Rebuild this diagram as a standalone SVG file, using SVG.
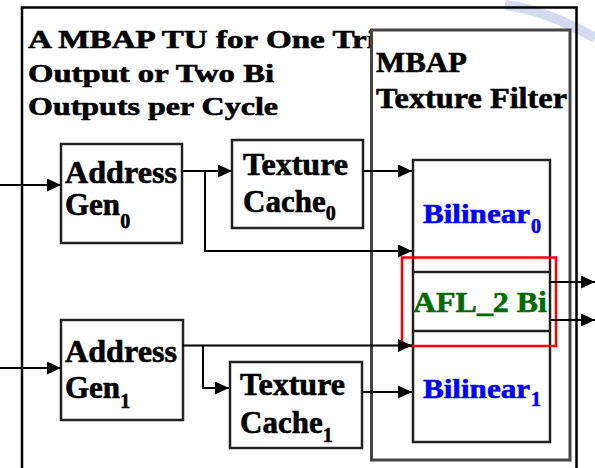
<svg xmlns="http://www.w3.org/2000/svg" width="595" height="468" viewBox="0 0 595 468">
  <defs>
    <marker id="arr" markerUnits="userSpaceOnUse" markerWidth="14" markerHeight="13" refX="14" refY="6.5" orient="auto">
      <path d="M0,0 L14,6.5 L0,13 Z" fill="#000"/>
    </marker>
    <style>
      text { font-family: 'Liberation Serif', 'Times New Roman', Times, serif; font-weight: 700; }
      .t { fill: #000; stroke: #000; stroke-width: 0.6; }
      .box { fill: #fff; stroke: #222; stroke-width: 2.5; }
      .nt { font-size: 31px; }
      .sub { font-size: 20px; }
      .blue { fill: #0000ff; stroke: #0000ff; }
      .green { fill: #006a00; stroke: #006a00; }
      .conn path { fill: none; stroke: #000; stroke-width: 2; }
    </style>
  </defs>
  <rect x="0" y="0" width="595" height="468" fill="#fff"/>

  <g id="watermark" opacity="0.5">
    <path d="M505,5 C530,8 560,18 595,38" fill="none" stroke="#a8b6e2" stroke-width="10"/>
  </g>

  <g id="outer-tu">
    <path d="M22,470 L22,7.5 L576.5,7.5 L576.5,470" fill="none" stroke="#000" stroke-width="2.5"/>
    <text class="t" font-size="25" x="28" y="48" textLength="348" lengthAdjust="spacingAndGlyphs">A MBAP TU for One Tri</text>
    <text class="t" font-size="25" x="28" y="82" textLength="246" lengthAdjust="spacingAndGlyphs">Output or Two Bi</text>
    <text class="t" font-size="25" x="28" y="115" textLength="250" lengthAdjust="spacingAndGlyphs">Outputs per Cycle</text>
  </g>

  <g id="mbap-filter">
    <rect x="371.5" y="30" width="198.5" height="430" fill="#fff" stroke="#444" stroke-width="3"/>
    <text class="t" font-size="30" x="376" y="72" textLength="91" lengthAdjust="spacingAndGlyphs">MBAP</text>
    <text class="t" font-size="30" x="376" y="108" textLength="191" lengthAdjust="spacingAndGlyphs">Texture Filter</text>
  </g>

  <g id="address-gen0">
    <rect class="box" x="61" y="144" width="121" height="99"/>
    <text class="t nt" x="65" y="183" textLength="112" lengthAdjust="spacingAndGlyphs">Address</text>
    <text class="t nt" x="65" y="215">Gen<tspan class="sub" dy="13">0</tspan></text>
  </g>

  <g id="texture-cache0">
    <rect class="box" x="232" y="140" width="131" height="88"/>
    <text class="t nt" x="243" y="175" textLength="105" lengthAdjust="spacingAndGlyphs">Texture</text>
    <text class="t nt" x="243" y="212">Cache<tspan class="sub" dy="8">0</tspan></text>
  </g>

  <g id="address-gen1">
    <rect class="box" x="61" y="320" width="122" height="100"/>
    <text class="t nt" x="65" y="362" textLength="112" lengthAdjust="spacingAndGlyphs">Address</text>
    <text class="t nt" x="65" y="398">Gen<tspan class="sub" dy="10">1</tspan></text>
  </g>

  <g id="texture-cache1">
    <rect class="box" x="230" y="362" width="132" height="86"/>
    <text class="t nt" x="240" y="395" textLength="105" lengthAdjust="spacingAndGlyphs">Texture</text>
    <text class="t nt" x="240" y="433">Cache<tspan class="sub" dy="9">1</tspan></text>
  </g>

  <g id="bilinear-column">
    <rect class="box" x="413" y="160" width="137" height="282"/>
    <line x1="413" y1="272" x2="550" y2="272" stroke="#222" stroke-width="2.5"/>
    <line x1="413" y1="331" x2="550" y2="331" stroke="#222" stroke-width="2.5"/>
    <text class="t blue" font-size="27" x="423" y="223" textLength="107" lengthAdjust="spacingAndGlyphs">Bilinear</text>
    <text class="t blue" font-size="20" x="531" y="233">0</text>
    <text class="t green" font-size="30" x="413" y="312" textLength="134" lengthAdjust="spacingAndGlyphs">AFL_2 Bi</text>
    <text class="t blue" font-size="27" x="423" y="398" textLength="107" lengthAdjust="spacingAndGlyphs">Bilinear</text>
    <text class="t blue" font-size="20" x="531" y="406">1</text>
  </g>

  <g id="afl-highlight">
    <rect x="402" y="257.5" width="154" height="88.5" fill="none" stroke="#ff0000" stroke-width="2.5"/>
  </g>

  <g id="connectors" class="conn">
    <path d="M0,185 L61,185" marker-end="url(#arr)"/>
    <path d="M182,171 L232,171" marker-end="url(#arr)"/>
    <path d="M205,171 L205,251 L412,251" marker-end="url(#arr)"/>
    <path d="M363,171 L412,171" marker-end="url(#arr)"/>
    <path d="M0,368 L61,368" marker-end="url(#arr)"/>
    <path d="M183,345.5 L412,345.5" marker-end="url(#arr)"/>
    <path d="M203,345.5 L203,388 L229,388" marker-end="url(#arr)"/>
    <path d="M362,392 L412,392" marker-end="url(#arr)"/>
    <path d="M550,282 L595,282" marker-end="url(#arr)"/>
    <path d="M550,320 L595,320" marker-end="url(#arr)"/>
  </g>
</svg>
